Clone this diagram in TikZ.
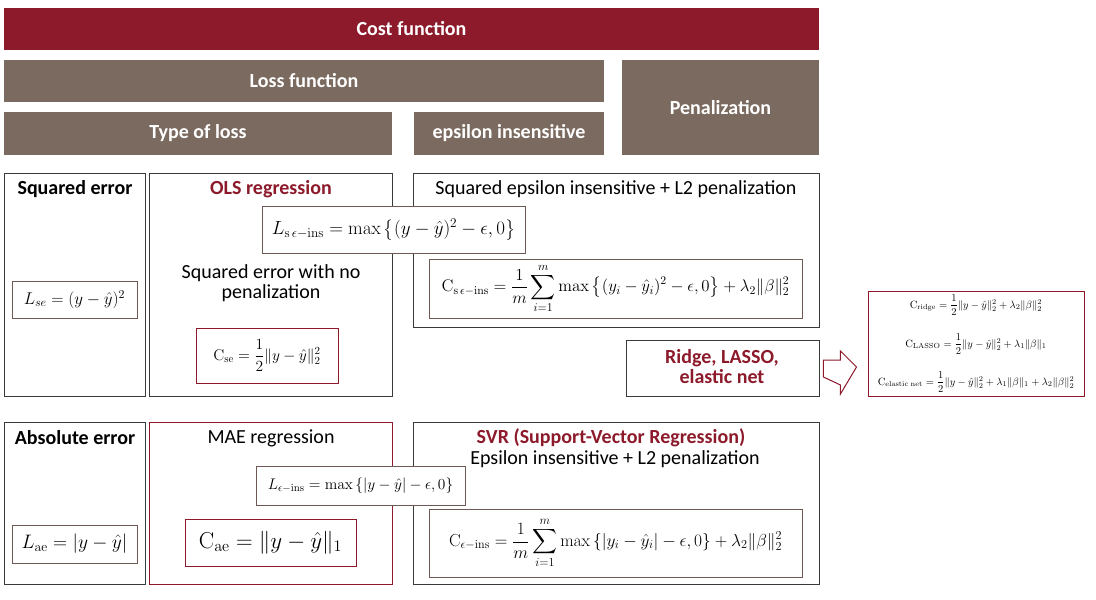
\documentclass[tikz,border=0pt]{standalone}
\usepackage{fix-cm}
\usepackage{amsmath}
\usepackage[no-math]{fontspec}
\setmainfont{Carlito}
\usetikzlibrary{calc}
\definecolor{dred}{HTML}{8C1A2B}
\definecolor{bgray}{HTML}{7B6A5F}
\definecolor{bord}{HTML}{3A3A3A}
\definecolor{fbord}{HTML}{6E5A52}
\newcommand{\fs}[1]{\fontsize{#1}{#1}\selectfont}
\newcommand{\bxnode}[7]{\node[#6, minimum width={(#4-#2)*1pt}, minimum height={(#5-#3)*1pt}] (#1) at ({(#2+#4)/2},{(#3+#5)/2}) {#7};}
\tikzset{
  hdr/.style={fill=#1, draw=none, inner sep=0pt, text=white, font=\fs{20}\bfseries},
  cell/.style={draw=bord, line width=0.9pt, inner sep=0pt},
  rcell/.style={draw=dred, line width=0.9pt, inner sep=0pt},
  fbox/.style={draw=fbord, line width=1pt, fill=white, inner sep=0pt},
  rfbox/.style={draw=dred, line width=1pt, fill=white, inner sep=0pt},
  ttl/.style={inner sep=0pt, font=\fs{20}\bfseries},
  txt/.style={inner sep=0pt, font=\fs{20}, align=center},
}
\begin{document}
\begin{tikzpicture}[x=1pt,y=-1pt]
\useasboundingbox (0,0) rectangle (1096,600);
% headers
\bxnode{cost}{4}{8}{819}{50}{hdr=dred}{Cost function}
\bxnode{loss}{4}{60}{604}{102}{hdr=bgray}{Loss function}
\bxnode{pen}{622}{60}{819}{155}{hdr=bgray}{Penalization}
\bxnode{type}{4}{112}{392}{155}{hdr=bgray}{Type of loss}
\bxnode{eps}{414}{112}{604}{155}{hdr=bgray}{epsilon insensitive}
% row 1 cells
\bxnode{sq}{4}{173}{145}{396}{cell}{}
\bxnode{ols}{149}{173}{392}{396}{cell}{}
\bxnode{sqe}{413}{173}{819}{327}{cell}{}
\node[ttl] (sqt) at (75,189) {Squared error};
\node[ttl, text=dred] (olst) at (271,189) {OLS regression};
\node[txt] (sqet) at (616,189) {Squared epsilon insensitive + L2 penalization};
\node[txt] (olsd) at (271,283) {Squared error with no\\[0pt]penalization};
\bxnode{lse}{12}{281}{137}{318}{fbox}{\fs{17}$L_{se}=(y-\hat{y})^2$}
\bxnode{csex}{196}{328}{338}{383}{rfbox}{\fs{15.5}$\mathrm{C}_{\mathrm{se}}=\dfrac{1}{2}\|y-\hat{y}\|_2^2$}
\bxnode{csei}{429}{259}{802}{318}{fbox}{\fs{16.8}$\mathrm{C}_{\mathrm{s}\,\epsilon\mathrm{-ins}}=\dfrac{1}{m}\displaystyle\sum_{i=1}^{m}\max\left\{(y_i-\hat{y}_i)^2-\epsilon,0\right\}+\lambda_2\|\beta\|_2^2$}
\bxnode{lsei}{262}{206}{525}{253}{fbox}{\fs{19}$L_{\mathrm{s}\,\epsilon\mathrm{-ins}}=\max\left\{(y-\hat{y})^2-\epsilon,0\right\}$}
% ridge
\bxnode{ridge}{626}{340}{819}{396}{cell}{}
\node[txt, font=\fs{20}\bfseries, text=dred] (ridget) at (722,367) {Ridge, LASSO,\\[0pt]elastic net};
\bxnode{pens}{868}{291}{1084}{396}{rfbox}{}
\node[inner sep=0pt, font=\fs{10.5}] (f1) at (976,305) {$\mathrm{C}_{\mathrm{ridge}}=\dfrac{1}{2}\|y-\hat{y}\|_2^2+\lambda_2\|\beta\|_2^2$};
\node[inner sep=0pt, font=\fs{10.5}] (f2) at (976,344) {$\mathrm{C}_{\mathrm{LASSO}}=\dfrac{1}{2}\|y-\hat{y}\|_2^2+\lambda_1\|\beta\|_1$};
\node[inner sep=0pt, font=\fs{10.5}] (f3) at (976,382) {$\mathrm{C}_{\mathrm{elastic\ net}}=\dfrac{1}{2}\|y-\hat{y}\|_2^2+\lambda_1\|\beta\|_1+\lambda_2\|\beta\|_2^2$};
\draw[draw=dred, line width=1pt, fill=white]
  ($(ridge.east)+(4,-8)$) -- ++(17,0) -- ++(0,-9) -- ($(pens.west)+(-11,{367-343.5})$) -- ($(ridge.east)+(21,26)$) -- ++(0,-9) -- ($(ridge.east)+(4,9)$) -- cycle;
% row 2 cells
\bxnode{abs}{4}{422}{145}{584}{cell}{}
\bxnode{mae}{149}{422}{392}{584}{rcell}{}
\bxnode{svr}{413}{422}{819}{584}{cell}{}
\node[ttl] (abst) at (75,438) {Absolute error};
\node[txt] (maet) at (271,438) {MAE regression};
\node[ttl, text=dred] (svrt) at (611,438) {SVR (Support-Vector Regression)};
\node[txt] (svrd) at (615,459) {Epsilon insensitive + L2 penalization};
\bxnode{lae}{12}{525}{137}{563}{fbox}{\fs{19.5}$L_{\mathrm{ae}}=|y-\hat{y}|$}
\bxnode{cae}{185}{519}{356}{566}{rfbox}{\fs{23}$\mathrm{C}_{\mathrm{ae}}=\|y-\hat{y}\|_1$}
\bxnode{lei}{256}{466}{465}{505}{fbox}{\fs{15.4}$L_{\epsilon\mathrm{-ins}}=\max\left\{|y-\hat{y}|-\epsilon,0\right\}$}
\bxnode{cei}{429}{509}{802}{577}{fbox}{\fs{17.4}$\mathrm{C}_{\epsilon\mathrm{-ins}}=\dfrac{1}{m}\displaystyle\sum_{i=1}^{m}\max\left\{|y_i-\hat{y}_i|-\epsilon,0\right\}+\lambda_2\|\beta\|_2^2$}
\end{tikzpicture}
\end{document}
